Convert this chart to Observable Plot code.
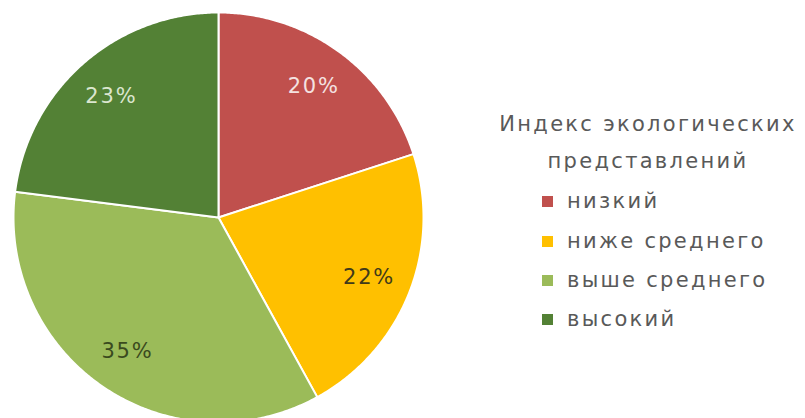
<!DOCTYPE html>
<html>
<head>
<meta charset="utf-8">
<script src="https://cdn.jsdelivr.net/npm/d3@7"></script>
<script src="https://cdn.jsdelivr.net/npm/@observablehq/plot@0.6"></script>
<style>
  body { margin: 0; background: #fff; }
  #wrap { position: relative; width: 805px; height: 418px; overflow: hidden; }
  #legend { position: absolute; left: 0; top: 0; width: 805px; height: 418px; pointer-events: none;
    font-family: "DejaVu Sans", sans-serif; color: #595959; }
  .ttl { position: absolute; left: 490px; width: 316px; text-align: center; font-size: 21px; letter-spacing: 2.3px; line-height: 1; }
  .item { position: absolute; left: 542px; font-size: 21px; letter-spacing: 2.3px; line-height: 1; white-space: nowrap; }
  .sw { display: inline-block; width: 11px; height: 11px; margin-right: 14px; vertical-align: 1px; }
</style>
</head>
<body>
<div id="wrap"><div id="legend"></div></div>
<script>
const legendTitle = ["Индекс экологических", "представлений"];
const categories = ["низкий", "ниже среднего", "выше среднего", "высокий"];
const values = [20, 22, 35, 23];
const colors = ["#C0504D", "#FFC000", "#9BBB59", "#538135"];
const labelColors = ["#f4e2e1", "#3f3a1a", "#3a4a1e", "#dbe6cf"];

const pie = d3.pie().sort(null).value(d => d.value)(
  categories.map((c, i) => ({category: c, value: values[i], color: colors[i], labelColor: labelColors[i]}))
);

function slicePoints(a) {
  const pts = [{x: 0, y: 0}];
  const n = Math.max(2, Math.ceil((a.endAngle - a.startAngle) / (Math.PI / 360)));
  for (let k = 0; k <= n; k++) {
    const t = a.startAngle + (a.endAngle - a.startAngle) * k / n;
    pts.push({x: Math.sin(t), y: Math.cos(t)});
  }
  pts.push({x: 0, y: 0});
  return pts;
}

const labels = pie.map(a => {
  const m = (a.startAngle + a.endAngle) / 2;
  const r = 0.79;
  return {x: r * Math.sin(m), y: r * Math.cos(m), text: a.data.value + "%", fill: a.data.labelColor};
});

const chart = Plot.plot({
  width: 805,
  height: 418,
  margin: 0,
  x: {domain: [-1, 1], range: [13, 423], axis: null},
  y: {domain: [-1, 1], range: [422, 12], axis: null},
  color: {type: "identity"},
  marks: [
    ...pie.map(a => Plot.line(slicePoints(a), {x: "x", y: "y", fill: a.data.color, stroke: "#fff", strokeWidth: 2, strokeLinejoin: "round", curve: "linear"})),
    Plot.text(labels, {x: "x", y: "y", text: "text", fill: "fill", fontSize: 21, fontFamily: "DejaVu Sans"})
  ]
});
chart.style.letterSpacing = "1.8px";
document.getElementById("wrap").prepend(chart);

const lg = document.getElementById("legend");
const titleTops = [114, 151];
legendTitle.forEach((t, i) => {
  const d = document.createElement("div");
  d.className = "ttl"; d.style.top = titleTops[i] + "px"; d.textContent = t;
  lg.appendChild(d);
});
const itemTops = [191, 231, 270, 309];
categories.forEach((c, i) => {
  const d = document.createElement("div");
  d.className = "item"; d.style.top = itemTops[i] + "px";
  const s = document.createElement("span");
  s.className = "sw"; s.style.background = colors[i];
  d.appendChild(s); d.appendChild(document.createTextNode(c));
  lg.appendChild(d);
});
</script>
</body>
</html>
